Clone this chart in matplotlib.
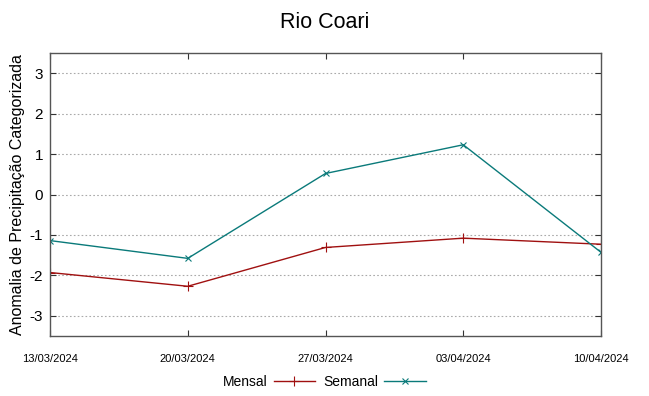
import matplotlib
matplotlib.use("Agg")
import matplotlib.pyplot as plt
import pandas as pd

# dados
datas = ["13/03/2024", "20/03/2024", "27/03/2024", "03/04/2024", "10/04/2024"]
mensal = [-1.93, -2.27, -1.31, -1.08, -1.23]
semanal = [-1.14, -1.58, 0.52, 1.23, -1.43]
yticks = [-3, -2, -1, 0, 1, 2, 3]

plt.rcParams['font.family'] = ['Liberation Sans', 'DejaVu Sans']

x = pd.to_datetime(datas, format="%d/%m/%Y")

fig = plt.figure(figsize=(6.49, 3.96), dpi=100)
ax = fig.add_axes([50 / 649, 60 / 396, 551 / 649, 283 / 396])

ax.plot(x, mensal, color="#a01010", lw=1, marker="+", ms=7, mew=0.8, label="Mensal")
ax.plot(x, semanal, color="#0a7a7a", lw=1, marker="x", ms=5, mew=0.8, label="Semanal")

ax.set_xlim(x[0], x[-1])
ax.set_ylim(-3.5, 3.5)
ax.set_xticks(x)
ax.set_xticklabels(datas, fontsize=8)
ax.set_yticks(yticks)
ax.set_yticklabels([str(v) for v in yticks], fontsize=11)
ax.tick_params(direction="in", length=4, width=0.8, color="#333333",
               top=True, right=True, pad=5)
ax.tick_params(axis="x", pad=13)
ax.grid(axis="y", color="#aaaaaa", linestyle=(0, (1.5, 2)), lw=0.8)
for s in ax.spines.values():
    s.set_color("#555555")
    s.set_linewidth(1)

ax.set_ylabel("Anomalia de Precipitação Categorizada", fontsize=11.5, labelpad=3)
fig.suptitle("Rio Coari", fontsize=15.5, y=0.97)

fig.legend(loc="center", bbox_to_anchor=(0.5, 14 / 396), ncol=2, frameon=False,
           fontsize=10, markerfirst=False, handlelength=3, columnspacing=0.6,
           handletextpad=0.4)

fig.savefig("out.png", dpi=100)
